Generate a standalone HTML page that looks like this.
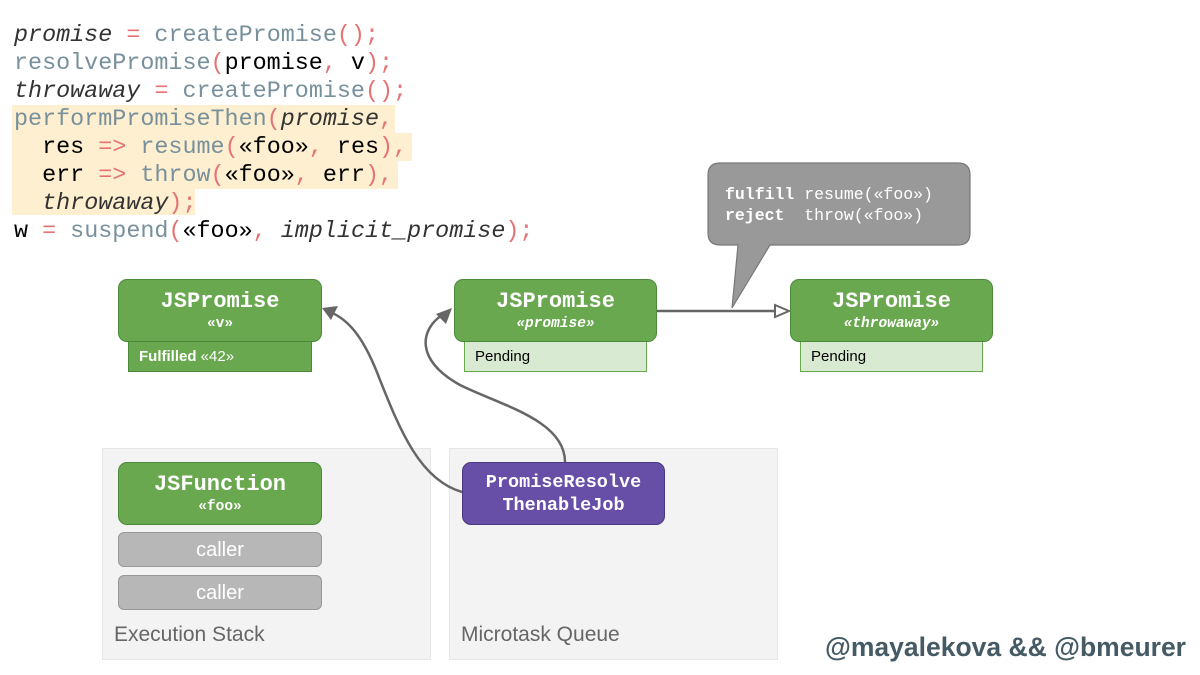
<!DOCTYPE html>
<html><head><meta charset="utf-8"><style>
body{margin:0;width:1200px;height:675px;background:#fff;position:relative;overflow:hidden;font-family:"Liberation Sans",sans-serif}
.code{position:absolute;left:14px;top:22px;font-family:"Liberation Mono",monospace;font-size:23.4px;line-height:28px;white-space:pre;color:#000}
.hl{position:absolute;background:#fdefcf}
.f{color:#78909c}.p{color:#e57373}.i{font-style:italic;color:#333}
.box{position:absolute;box-sizing:border-box;border:1.5px solid #4a8a3a;background:#6aa84f;border-radius:9px;color:#fff;text-align:center;font-family:"Liberation Mono",monospace;font-weight:bold}
.t{font-size:22px;margin-top:10px;line-height:24px}
.s{font-size:14.5px;line-height:20px}
.sub{position:absolute;box-sizing:border-box;border:1px solid #6aa84f;background:#d9ead3;font-size:15px;padding:6px 0 0 10px;height:31px}
.panel{position:absolute;background:#f3f3f3;border:1px solid #e6e6e6;box-sizing:border-box}
.caller{position:absolute;left:118px;width:204px;height:35px;box-sizing:border-box;background:#b7b7b7;border:1px solid #999;border-radius:6px;color:#fff;font-size:20px;text-align:center;line-height:35px}
</style></head><body>
<div class="hl" style="left:12px;top:105px;width:383px;height:28px"></div>
<div class="hl" style="left:12px;top:133px;width:400px;height:28px"></div>
<div class="hl" style="left:12px;top:161px;width:386px;height:28px"></div>
<div class="hl" style="left:12px;top:189px;width:183px;height:26px"></div>
<div class="code"><span class="i">promise</span> <span class="p">=</span> <span class="f">createPromise</span><span class="p">();</span>
<span class="f">resolvePromise</span><span class="p">(</span>promise<span class="p">,</span> v<span class="p">);</span>
<span class="i">throwaway</span> <span class="p">=</span> <span class="f">createPromise</span><span class="p">();</span>
<span class="f">performPromiseThen</span><span class="p">(</span><span class="i">promise</span><span class="p">,</span>
  res <span class="p">=&gt;</span> <span class="f">resume</span><span class="p">(</span>«foo»<span class="p">,</span> res<span class="p">),</span>
  err <span class="p">=&gt;</span> <span class="f">throw</span><span class="p">(</span>«foo»<span class="p">,</span> err<span class="p">),</span>
  <span class="i">throwaway</span><span class="p">);</span>
w <span class="p">=</span> <span class="f">suspend</span><span class="p">(</span>«foo»<span class="p">,</span> <span class="i">implicit_promise</span><span class="p">);</span></div>

<div class="panel" style="left:102px;top:448px;width:329px;height:212px"></div>
<div class="panel" style="left:449px;top:448px;width:329px;height:212px"></div>
<div style="position:absolute;left:114px;top:623px;font-size:21px;color:#666">Execution Stack</div>
<div style="position:absolute;left:461px;top:623px;font-size:21px;color:#666">Microtask Queue</div>

<svg width="1200" height="675" style="position:absolute;left:0;top:0">
<path d="M708,175 Q708,163 720,163 L958,163 Q970,163 970,175 L970,233 Q970,245 958,245 L770,245 L732,308 L738,245 L720,245 Q708,245 708,233Z" fill="#999" stroke="#777" stroke-width="1.2"/>
<line x1="657" y1="311" x2="775" y2="311" stroke="#666" stroke-width="2.5"/>
<polygon points="775,305 789,311 775,317" fill="#fff" stroke="#666" stroke-width="2"/>
<path d="M462,492 C420,480 400,430 380,380 C365,340 350,320 330,312" fill="none" stroke="#666" stroke-width="2.5"/>
<polygon points="322,308 338,306 331,320" fill="#666"/>
<path d="M565,462 C565,420 500,405 460,385 C415,360 420,330 442,315" fill="none" stroke="#666" stroke-width="2.5"/>
<polygon points="452,308 446,324 436,314" fill="#666"/>
</svg>
<div style="position:absolute;left:725px;top:184px;font-family:'Liberation Mono',monospace;font-size:16.5px;line-height:21px;color:#fff;white-space:pre"><b>fulfill</b> resume(«foo»)
<b>reject</b>  throw(«foo»)</div>

<div class="sub" style="left:128px;top:341px;width:184px;background:#6aa84f;color:#fff;font-weight:bold;border-color:#4a8a3a">Fulfilled <span style="font-weight:normal">«42»</span></div>
<div class="box" style="left:118px;top:279px;width:204px;height:63px"><div class="t">JSPromise</div><div class="s">«v»</div></div>
<div class="sub" style="left:464px;top:341px;width:183px">Pending</div>
<div class="box" style="left:454px;top:279px;width:203px;height:63px"><div class="t">JSPromise</div><div class="s"><i>«promise»</i></div></div>
<div class="sub" style="left:800px;top:341px;width:183px">Pending</div>
<div class="box" style="left:790px;top:279px;width:203px;height:63px"><div class="t">JSPromise</div><div class="s"><i>«throwaway»</i></div></div>

<div class="box" style="left:118px;top:462px;width:204px;height:63px"><div class="t">JSFunction</div><div class="s">«foo»</div></div>
<div class="caller" style="top:532px">caller</div>
<div class="caller" style="top:575px">caller</div>
<div class="box" style="left:462px;top:462px;width:203px;height:63px;background:#674ea7;border-color:#4b3680"><div style="font-size:18.5px;line-height:23px;margin-top:8px">PromiseResolve<br>ThenableJob</div></div>

<div style="position:absolute;right:14px;top:632px;font-size:26.5px;font-weight:bold;color:#455a64">@mayalekova &amp;&amp; @bmeurer</div>
</body></html>
